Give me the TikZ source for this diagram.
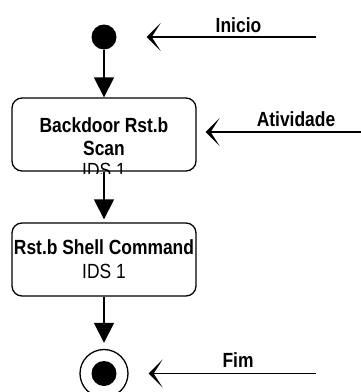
\documentclass[tikz,border=0pt]{standalone}
\usepackage{fontspec}
\setmainfont{Liberation Sans}[FakeStretch=0.85]
\usetikzlibrary{arrows.meta}

\begin{document}
\begin{tikzpicture}[x=1pt, y=-1pt,
  act/.style={draw, line width=1.3pt, rounded corners=10pt,
    minimum width=184pt, minimum height=73pt, inner sep=0pt},
  flow/.style={-{Triangle[length=20pt,width=20pt]}, line width=1.3pt},
  pointer/.style={-{Stealth[length=14pt,width=28pt,inset=9pt]}, line width=1.2pt},
  txt/.style={font=\fontsize{20.5}{24}\selectfont, inner sep=0pt, anchor=base},
  btxt/.style={txt, font=\fontsize{20.5}{24}\selectfont\bfseries}]

  \useasboundingbox (0,0) rectangle (361,392);

  % start and end
  \node[circle, fill, minimum size=25pt, inner sep=0pt] (start) at (104,37) {};
  \node[circle, draw, line width=1.3pt, minimum size=48pt, inner sep=0pt] (end) at (104,373.5) {};
  \node[circle, fill, minimum size=25pt, inner sep=0pt] (endDot) at (end) {};

  % activities
  \node[act] (act1) at (104,134.5) {};
  \node[btxt] (act1a) at (104,132) {Backdoor Rst.b};
  \node[btxt] (act1b) at (104,155) {Scan};
  \begin{scope}
    \clip (0,0) rectangle (361,173);
    \node[txt] (act1c) at (104,177.5) {IDS 1};
  \end{scope}

  \node[act] (act2) at (104,259.5) {};
  \node[btxt] (act2a) at (104,254) {Rst.b Shell Command};
  \node[txt] (act2b) at (104,278) {IDS 1};

  \draw[flow] (start) -- (act1);
  \draw[flow, shorten >=3pt] (act1) -- (act2);
  \draw[flow, shorten >=6pt] (act2) -- (end);

  % notes
  \coordinate (iniTail) at (316,37);
  \coordinate (atvTail) at (361,132);
  \coordinate (fimTail) at (316,373.5);
  \draw[pointer, shorten >=30pt] (iniTail) -- (start);
  \draw[pointer, shorten >=9pt] (atvTail) -- (atvTail -| act1.east);
  \draw[pointer, shorten >=20pt] (fimTail) -- (end);
  \node[btxt] (ini) at (238.5,32) {Inicio};
  \node[btxt] (atv) at (296,126) {Atividade};
  \node[btxt] (fim) at (238,367) {Fim};

\end{tikzpicture}
\end{document}
